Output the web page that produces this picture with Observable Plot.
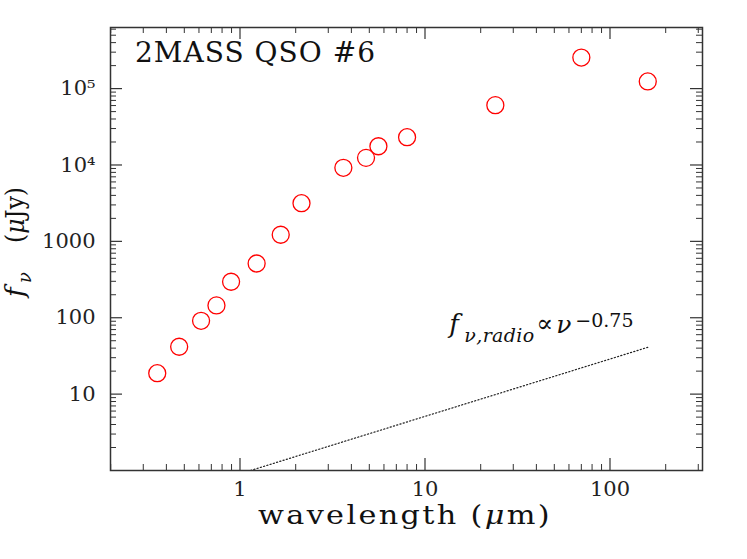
<!DOCTYPE html>
<html><head><meta charset="utf-8">
<script src="https://cdn.jsdelivr.net/npm/d3@7"></script>
<script src="https://cdn.jsdelivr.net/npm/@observablehq/plot@0.6"></script>
<style>
body{margin:0;background:#fff}
svg{font-family:"DejaVu Serif",serif}
</style>
</head><body><div id="chart"></div>
<script>
// ---- data ----
const wavelength = [0.357, 0.469, 0.616, 0.746, 0.895, 1.23, 1.66, 2.15, 3.62, 4.8, 5.6, 8.0, 24.0, 70.0, 160];
const flux       = [18.8, 41.7, 91.2, 145, 296, 513, 1220, 3160, 9190, 12400, 17600, 23100, 60700, 255000, 124000];
const radioWavelength = [1.14, 160];
const radioFlux       = [1.0, 41];
const xMajor = [1, 10, 100];
const xTickLabels = ["1", "10", "100"];
const xMinor = [0.2,0.3,0.4,0.5,0.6,0.7,0.8,0.9, 2,3,4,5,6,7,8,9, 20,30,40,50,60,70,80,90, 200,300];
const yMajor = [10, 100, 1000, 1e4, 1e5];
const yTickLabels = ["10", "100", "1000", "10⁴", "10⁵"];
const yMinorMultipliers = [2,3,4,5,6,7,8,9];
const yMinorDecades = [1, 10, 100, 1000, 1e4, 1e5];
const title = "2MASS QSO #6";

const yMinor = yMinorDecades.flatMap(d => yMinorMultipliers.map(k => k * d)).filter(v => v < 10 ** 5.8);

// ---- layout ----
const W = 747, H = 559, mt = 27, mr = 45, mb = 89, ml = 110;
const innerH = H - mt - mb, innerW = W - ml - mr;
const ink = "#333";

const plot = Plot.plot({
  width: W, height: H,
  marginTop: mt, marginRight: mr, marginBottom: mb, marginLeft: ml,
  style: {fontFamily: "DejaVu Serif", fontSize: "21px", background: "white", color: "#222"},
  x: {type: "log", domain: [10 ** -0.7, 10 ** 2.5]},
  y: {type: "log", domain: [1, 10 ** 5.8]},
  marks: [
    Plot.axisX(xMajor, {tickSize: 0, tickPadding: 11, tickFormat: d => xTickLabels[xMajor.indexOf(d)], label: null, fontSize: 21}),
    Plot.axisY(yMajor, {tickSize: 0, tickPadding: 15, tickFormat: d => yTickLabels[yMajor.indexOf(d)], label: null, fontSize: 21}),
    // inward ticks on all four sides
    Plot.tickX(xMajor, {x: d => d, insetTop: innerH - 12, stroke: ink, strokeWidth: 1.2}),
    Plot.tickX(xMinor, {x: d => d, insetTop: innerH - 6, stroke: ink, strokeWidth: 1}),
    Plot.tickX(xMajor, {x: d => d, insetBottom: innerH - 12, stroke: ink, strokeWidth: 1.2}),
    Plot.tickX(xMinor, {x: d => d, insetBottom: innerH - 6, stroke: ink, strokeWidth: 1}),
    Plot.tickY(yMajor, {y: d => d, insetRight: innerW - 12, stroke: ink, strokeWidth: 1.2}),
    Plot.tickY(yMinor, {y: d => d, insetRight: innerW - 6, stroke: ink, strokeWidth: 1}),
    Plot.tickY(yMajor, {y: d => d, insetLeft: innerW - 12, stroke: ink, strokeWidth: 1.2}),
    Plot.tickY(yMinor, {y: d => d, insetLeft: innerW - 6, stroke: ink, strokeWidth: 1}),
    // radio power law
    Plot.line(radioWavelength, {x: radioWavelength, y: radioFlux, stroke: "#222", strokeWidth: 1.2, strokeDasharray: "1.2,2.2"}),
    // photometry
    Plot.dot(wavelength, {x: wavelength, y: flux, r: 8.5, stroke: "red", strokeWidth: 1.3, fill: "none"}),
    Plot.frame({stroke: ink, strokeWidth: 1.5})
  ]
});

document.getElementById("chart").appendChild(plot);

const svg = d3.select(plot);
const X = plot.scale("x"), Y = plot.scale("y");
const labels = svg.append("g").attr("text-anchor", "start").attr("fill", "#111");

// title
labels.append("text")
  .attr("x", ml + 25).attr("y", mt + 35)
  .attr("font-size", 28)
  .attr("textLength", 240).attr("lengthAdjust", "spacing")
  .text(title);

// x axis label
const xl = labels.append("text")
  .attr("x", 258).attr("y", 524)
  .attr("font-size", 26)
  .attr("letter-spacing", 2)
  .attr("textLength", 294).attr("lengthAdjust", "spacingAndGlyphs");
xl.append("tspan").text("wavelength (");
xl.append("tspan").attr("font-style", "italic").text("μ");
xl.append("tspan").text("m)");

// y axis label (rotated)
const yl = labels.append("text")
  .attr("transform", "translate(24,297) rotate(-90)")
  .attr("font-size", 26);
yl.append("tspan").attr("x", 0).attr("font-style", "italic").text("f");
yl.append("tspan").attr("x", 14).attr("dy", 7).attr("font-size", 18).attr("font-style", "italic").text("ν");
const yl2 = labels.append("text")
  .attr("transform", "translate(24,243) rotate(-90)")
  .attr("font-size", 26)
  .attr("textLength", 56).attr("lengthAdjust", "spacingAndGlyphs");
yl2.append("tspan").text("(");
yl2.append("tspan").attr("font-style", "italic").text("μ");
yl2.append("tspan").text("Jy)");

// annotation, anchored at the end of the radio line
const ex = X.apply(radioWavelength[1]), ey = Y.apply(radioFlux[1]);
const ann = labels.append("g");
ann.append("text").attr("x", ex - 198).attr("y", ey - 14).attr("font-size", 26).attr("font-style", "italic").text("f");
ann.append("text").attr("x", ex - 183).attr("y", ey - 4.5).attr("font-size", 19).attr("font-style", "italic")
  .attr("textLength", 70).attr("lengthAdjust", "spacing").text("ν,radio");
ann.append("text").attr("x", ex - 111).attr("y", ey - 15).attr("font-size", 25).text("∝");
ann.append("text").attr("x", ex - 91).attr("y", ey - 14).attr("font-size", 25).attr("font-style", "italic").text("ν");
ann.append("text").attr("x", ex - 72).attr("y", ey - 20).attr("font-size", 19).text("−0.75");
</script>
</body></html>
